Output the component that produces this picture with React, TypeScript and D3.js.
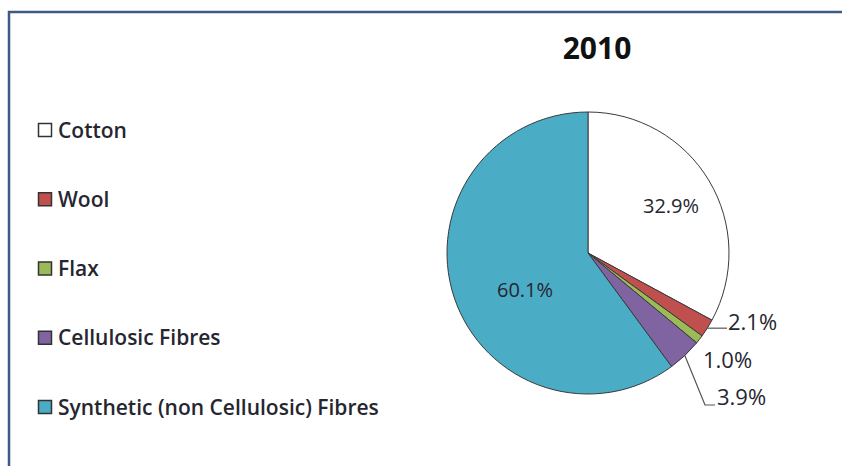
import React from "react";
import * as d3 from "d3";

const categories = ["Cotton", "Wool", "Flax", "Cellulosic Fibres", "Synthetic (non Cellulosic) Fibres"];
const values = [32.9, 2.1, 1.0, 3.9, 60.1];
const colors = ["#ffffff", "#c0504d", "#9bbb59", "#8064a2", "#4bacc6"];
const title = "2010";

const W = 842;
const H = 466;
const cx = 588;
const cy = 253;
const R = 141;

export default function App() {
  const pie = d3.pie<number>().sort(null).value((d) => d)(values);
  const arc = d3.arc<d3.PieArcDatum<number>>().innerRadius(0).outerRadius(R);
  const legendY = d3.scalePoint<string>().domain(categories).range([130, 407]);
  const fmt = (v: number) => d3.format(".1f")(v) + "%";

  const edge = (d: d3.PieArcDatum<number>) => {
    const a = (d.startAngle + d.endAngle) / 2;
    return [cx + R * Math.sin(a), cy - R * Math.cos(a)];
  };

  const txt = "#262630";

  return (
    <svg width={W} height={H} style={{ position: "absolute", left: 0, top: 0 }}>
      <rect x={0} y={0} width={W} height={H} fill="#ffffff" />
      <path d={`M9,${H + 5} L9,12 L${W + 5},12`} fill="none" stroke="#3b5b84" strokeWidth={2.5} />
      <text x={597} y={59} textAnchor="middle" fontFamily="Open Sans" fontWeight="bold" fontSize={30} fill="#111">
        {title}
      </text>
      <g transform={`translate(${cx},${cy})`}>
        {pie.map((d, i) => (
          <path key={i} d={arc(d) || ""} fill={colors[i]} stroke="#3a3a3a" strokeWidth={1} />
        ))}
      </g>
      {/* inside labels */}
      <text x={671} y={213} textAnchor="middle" fontFamily="Open Sans" fontSize={20} fill={txt}>
        {fmt(values[0])}
      </text>
      <text x={525} y={297} textAnchor="middle" fontFamily="Open Sans" fontSize={20} fill={txt}>
        {fmt(values[4])}
      </text>
      {/* outside labels with leaders */}
      {(() => {
        const [x1, y1] = edge(pie[1]);
        return (
          <g>
            <path d={`M${x1},${y1} L727,${y1}`} fill="none" stroke="#555" strokeWidth={1.2} />
            <text x={728} y={330} fontFamily="Open Sans" fontSize={22} fill={txt}>{fmt(values[1])}</text>
          </g>
        );
      })()}
      <text x={703} y={368} fontFamily="Open Sans" fontSize={22} fill={txt}>{fmt(values[2])}</text>
      {(() => {
        const [x3, y3] = edge(pie[3]);
        return (
          <g>
            <path d={`M${x3},${y3} L705,405 L715,405`} fill="none" stroke="#555" strokeWidth={1.2} />
            <text x={717} y={405} fontFamily="Open Sans" fontSize={22} fill={txt}>{fmt(values[3])}</text>
          </g>
        );
      })()}
      {/* legend */}
      {categories.map((c, i) => {
        const y = legendY(c) as number;
        return (
          <g key={c}>
            <rect x={38.5} y={y - 6.5} width={13} height={13} fill={colors[i]} stroke="#333" strokeWidth={1.5} />
            <text x={58} y={y + 7.5} fontFamily="Open Sans" fontWeight={600} fontSize={21} fill={txt}>
              {c}
            </text>
          </g>
        );
      })}
    </svg>
  );
}
